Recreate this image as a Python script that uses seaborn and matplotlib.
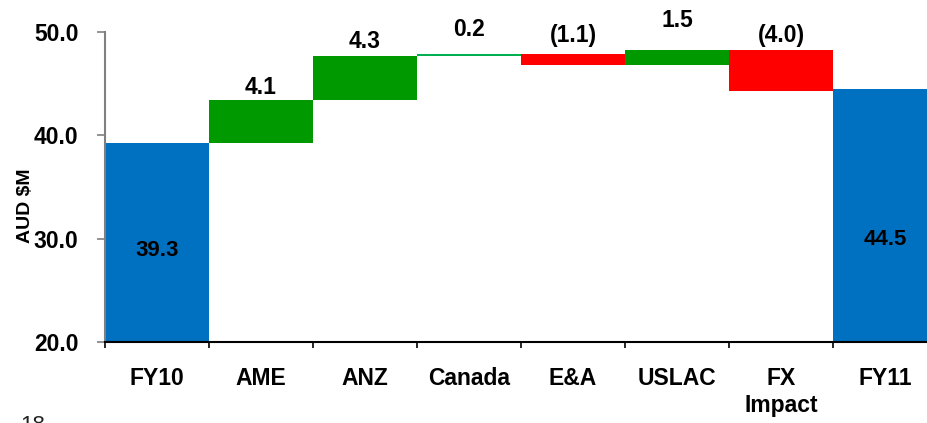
import matplotlib
matplotlib.use("Agg")
import matplotlib.pyplot as plt
import seaborn as sns
import numpy as np

# Waterfall data (AUD $M)
categories = ["FY10", "AME", "ANZ", "Canada", "E&A", "USLAC", "FX\nImpact", "FY11"]
values = [39.3, 4.1, 4.3, 0.2, -1.1, 1.5, -4.0, 44.5]
is_total = [True, False, False, False, False, False, False, True]
value_labels = ["39.3", "4.1", "4.3", "0.2", "(1.1)", "1.5", "(4.0)", "44.5"]

# Colours: totals blue, increases green, decreases red (small increase lighter green)
colors = ["#0070C0", "#009900", "#009900", "#00B050", "#FF0000", "#009900", "#FF0000", "#0070C0"]

# Running bases for the floating bars
bottoms = []
running = 0.0
for v, tot in zip(values, is_total):
    if tot:
        bottoms.append(0.0)
        running = v
    else:
        bottoms.append(running)
        running += v
bottoms = np.array(bottoms)
heights = np.array(values)

sns.set_theme(style="white")
plt.rcParams["font.family"] = ["Liberation Sans", "DejaVu Sans"]

fig = plt.figure(figsize=(9.28, 4.23), dpi=100)
ax = fig.add_axes([105 / 928, 81 / 423, 832 / 928, 310 / 423])

sns.barplot(x=list(range(len(categories))), y=heights, bottom=bottoms,
            color=colors[0], saturation=1, width=1.0, linewidth=0, ax=ax,
            native_scale=True, errorbar=None)
for patch, c in zip(ax.patches, colors):
    patch.set_facecolor(c)
    patch.set_edgecolor("none")

ax.set_ylim(20, 50)
ax.set_xlim(-0.5, len(categories) - 0.5)

# Value labels
offsets_pt = [0, 1, 2, 9, 5, 13, 2, 0]
total_label_y = {0: 28.9, 7: 29.9}
for i, (lab, b, v) in enumerate(zip(value_labels, bottoms, values)):
    if is_total[i]:
        ax.text(i, total_label_y[i], lab, ha="center", va="center",
                fontsize=16, fontweight="bold", color="black")
    else:
        top = max(b, b + v)
        ax.annotate(lab, (i, top), xytext=(0, offsets_pt[i]), textcoords="offset points",
                    ha="center", va="bottom", fontsize=16.5, fontweight="bold",
                    color="black", annotation_clip=False)

# Axes styling
ax.set_yticks([20, 30, 40, 50])
ax.set_yticklabels(["20.0", "30.0", "40.0", "50.0"], fontsize=16.5, fontweight="bold", color="black")
ax.tick_params(axis="y", direction="out", length=6, width=1.2, color="#808080", pad=13, left=True)

ax.set_xticks(range(len(categories)))
ax.set_xticklabels(categories, fontsize=16.5, fontweight="bold", va="top",
                   linespacing=1.2, color="black")
ax.tick_params(axis="x", which="major", length=0, pad=18)
ax.set_xticks(np.arange(-0.5, len(categories), 1.0), minor=True)
ax.tick_params(axis="x", which="minor", direction="out", length=4.5, width=1.2, color="black", bottom=True)

ax.set_xlabel("")
ax.set_ylabel("AUD \\$M", fontsize=14, fontweight="bold", color="black")
ax.yaxis.set_label_coords(-0.085, 0.44)

for side in ["top", "right"]:
    ax.spines[side].set_visible(False)
ax.spines["left"].set_color("#808080")
ax.spines["left"].set_linewidth(1.5)
ax.spines["bottom"].set_color("black")
ax.spines["bottom"].set_linewidth(1.5)
ax.grid(False)

fig.text(20 / 928, 8 / 423, "18", ha="left", va="top", fontsize=16, color="#222222")

fig.savefig("out.png", dpi=100)
